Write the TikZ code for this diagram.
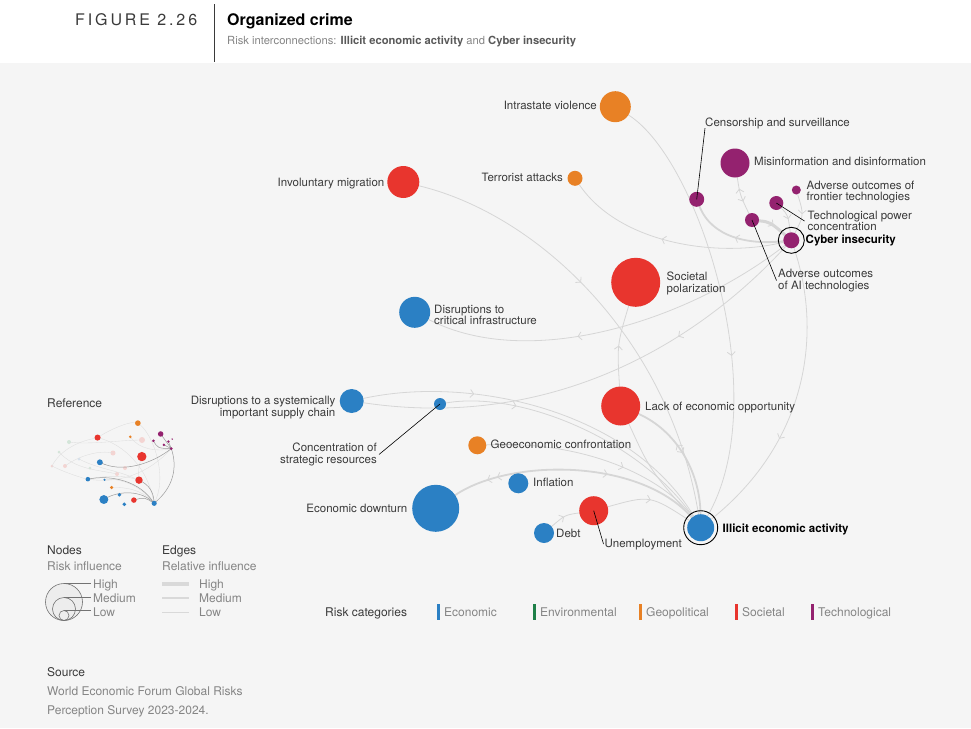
\documentclass[tikz,border=0pt]{standalone}
\usepackage{fontspec}
\setmainfont{TeX Gyre Heros}
\usetikzlibrary{arrows.meta,decorations.markings}
\definecolor{bgc}{HTML}{F5F5F5}
\definecolor{edgec}{HTML}{D6D6D6}
\definecolor{txt}{HTML}{3A3A3A}
\definecolor{gtxt}{HTML}{858585}
\definecolor{ecoc}{HTML}{2B80C4}
\definecolor{envc}{HTML}{1E8048}
\definecolor{geoc}{HTML}{E88125}
\definecolor{socc}{HTML}{E8352E}
\definecolor{tecc}{HTML}{94226F}
\definecolor{thl}{HTML}{DEDEDE}
\definecolor{thd}{HTML}{9A9A9A}
\definecolor{fpink}{HTML}{F4D4D2}
\definecolor{fgreen}{HTML}{D3E6D9}
\definecolor{fblue}{HTML}{D5E3F0}
\pgfdeclarelayer{bg}
\pgfsetlayers{bg,main}
\tikzset{
  rnode/.style={circle, inner sep=0pt, outer sep=0pt, minimum size=#1},
  lbl/.style={inner sep=0pt, font=\fontsize{11.5}{11.5}\selectfont, text=txt, text height=8pt, text depth=2pt},
  lbltwo/.style={inner sep=0pt, font=\fontsize{11.5}{11.4}\selectfont, text=txt, align=left},
  lbltwor/.style={lbltwo, align=right},
  boldlbl/.style={lbl, font=\bfseries\fontsize{11.5}{11.5}\selectfont, text=black},
  leader/.style={draw=black, line width=0.6pt},
  edg/.style={draw=edgec, line width=0.8pt},
  edgm/.style={draw=edgec, line width=1.8pt},
  edgt/.style={draw=edgec, line width=3pt},
  chev/.style={postaction={decorate, decoration={markings, mark=at position #1 with {\arrow[edgec, line width=0.8pt]{Straight Barb[length=3.5pt, width=8pt]}}}}},
  chevback/.style={postaction={decorate, decoration={markings, mark=at position #1 with {\arrowreversed[edgec, line width=0.8pt]{Straight Barb[length=3.5pt, width=8pt]}}}}},
  legtxt/.style={inner sep=0pt, anchor=base west, font=\fontsize{12}{13}\selectfont, text=gtxt},
  legdark/.style={legtxt, text=txt},
  thin/.style={draw=thl, line width=0.35pt},
  thdark/.style={draw=thd, line width=0.5pt},
}
\begin{document}
\begin{tikzpicture}[x=1pt, y=-1pt]
\useasboundingbox (0,0) rectangle (971,728);
\begin{pgfonlayer}{bg}
\fill[white] (0,0) rectangle (971,63);
\fill[bgc] (0,63) rectangle (971,728);
\end{pgfonlayer}

% header
\node[inner sep=0pt, anchor=base west, font=\fontsize{16}{16}\selectfont\addfontfeatures{LetterSpace=18}, text=txt] (fig) at (75,25) {FIGURE 2.26};
\coordinate (vt) at (214,4);
\coordinate (vb) at (214,62);
\draw[line width=0.8pt, draw=txt] (vt) -- (vb);
\node[inner sep=0pt, anchor=base west, font=\bfseries\fontsize{16}{16}\selectfont, text=black] (title) at (227,25) {Organized crime};
\node[inner sep=0pt, anchor=base west, font=\fontsize{11.2}{12}\selectfont, text=gtxt] (subtitle) at (227,44.5) {Risk interconnections: \textcolor{black!65}{\bfseries Illicit economic activity} and \textcolor{black!65}{\bfseries Cyber insecurity}};

% main nodes
\node[rnode=31pt, fill=geoc] (intra) at (615.3,106.7) {};
\node[rnode=15pt, fill=tecc] (cens) at (696.7,199.3) {};
\node[rnode=29pt, fill=tecc] (misi) at (735,163) {};
\node[rnode=9pt, fill=tecc] (front) at (796.3,190) {};
\node[rnode=14pt, fill=tecc] (tpow) at (776.3,203) {};
\node[rnode=14pt, fill=tecc] (ai) at (752,220) {};
\node[rnode=16pt, fill=tecc] (cyb) at (791.3,240.3) {};
\node[rnode=26pt, draw=black, line width=0.9pt] (cybring) at (cyb.center) {};
\node[rnode=32pt, fill=socc] (invm) at (403.3,182) {};
\node[rnode=15pt, fill=geoc] (terr) at (575,178.3) {};
\node[rnode=49pt, fill=socc] (soc) at (635.7,282.3) {};
\node[rnode=31pt, fill=ecoc] (crit) at (414.7,312.3) {};
\node[rnode=24pt, fill=ecoc] (supc) at (351.7,401) {};
\node[rnode=12pt, fill=ecoc] (conc) at (440,404) {};
\node[rnode=39pt, fill=socc] (leo) at (620.7,406) {};
\node[rnode=18pt, fill=geoc] (geo) at (477.3,445.3) {};
\node[rnode=20pt, fill=ecoc] (infl) at (518.3,483.3) {};
\node[rnode=47pt, fill=ecoc] (ecod) at (435.7,508.3) {};
\node[rnode=29pt, fill=socc] (unem) at (593.7,510.7) {};
\node[rnode=20pt, fill=ecoc] (debt) at (544,533) {};
\node[rnode=27pt, fill=ecoc] (ill) at (700.7,527.7) {};
\node[rnode=34pt, draw=black, line width=0.9pt] (illring) at (ill.center) {};

% edges
\begin{pgfonlayer}{bg}
\draw[edg, chev=0.62] (intra) .. controls (700,160) and (775,400) .. (ill);
\draw[edg, chev=0.42] (invm) .. controls (540,215) and (670,340) .. (ill);
\draw[edg, chev=0.55] (cyb) .. controls (720,258) and (620,245) .. (terr);
\draw[edg, chev=0.6] (cyb) .. controls (690,320) and (530,372) .. (crit);
\draw[edg, chev=0.3] (cyb) .. controls (705,335) and (560,432) .. (supc);
\draw[edg, chev=0.65] (cyb) .. controls (822,330) and (810,440) .. (ill);
\draw[edgm, chev=0.5] (cyb) .. controls (750,245) and (712,238) .. (cens);
\draw[edgt, chev=0.5] (ai) .. controls (770,222) .. (cyb);
\draw[edg, chev=0.5] (tpow) .. controls (788,215) .. (cyb);
\draw[edg, chev=0.5] (front) .. controls (804,215) .. (cyb);
\draw[edg, chevback=0.3, chev=0.65] (misi) .. controls (740,195) .. (ai);
\draw[edg, chev=0.5] (leo) .. controls (617,345) .. (soc);
\draw[edgm, chevback=0.4, chev=0.48] (leo) .. controls (675,430) and (700,470) .. (ill);
\draw[edg] (leo) .. controls (650,470) .. (ill);
\draw[edg, chev=0.62] (geo) .. controls (590,440) and (665,480) .. (ill);
\draw[edgm, chevback=0.14, chevback=0.18, chev=0.62] (ecod) .. controls (510,458) and (640,458) .. (ill);
\draw[edg, chev=0.5] (unem) .. controls (650,495) .. (ill);
\draw[edg, chev=0.5] (debt) .. controls (565,515) .. (unem);
\draw[edg, chev=0.3] (supc) .. controls (470,375) and (630,410) .. (ill);
\draw[edg, chev=0.25] (conc) .. controls (520,390) and (640,440) .. (ill);
\end{pgfonlayer}

% labels
\node[lbl, anchor=east] (lintra) at (597,106.5) {Intrastate violence};
\node[lbl, anchor=west] (lcens) at (705,123) {Censorship and surveillance};
\node[lbl, anchor=west] (lmisi) at (754,162.5) {Misinformation and disinformation};
\node[lbltwo, anchor=west] (lfront) at (806.5,192) {Adverse outcomes of\\frontier technologies};
\node[lbltwo, anchor=west] (ltpow) at (807.5,221) {Technological power\\concentration};
\node[boldlbl, anchor=west] (lcyb) at (805.5,240.7) {Cyber insecurity};
\node[lbltwo, anchor=west] (lai) at (778,280.5) {Adverse outcomes\\of AI technologies};
\node[lbl, anchor=east] (linvm) at (384.5,183.3) {Involuntary migration};
\node[lbl, anchor=east] (lterr) at (563,178.8) {Terrorist attacks};
\node[lbltwo, anchor=west] (lsoc) at (666.5,283.3) {Societal\\polarization};
\node[lbltwo, anchor=west] (lcrit) at (434,315) {Disruptions to\\critical infrastructure};
\node[lbltwor, anchor=east] (lsupc) at (335.5,407.7) {Disruptions to a systemically\\important supply chain};
\node[lbltwor, anchor=east] (lconc) at (377,454.5) {Concentration of\\strategic resources};
\node[lbl, anchor=west] (lleo) at (645,407.3) {Lack of economic opportunity};
\node[lbl, anchor=west] (lgeo) at (490.5,445) {Geoeconomic confrontation};
\node[lbl, anchor=west] (linfl) at (533,483.3) {Inflation};
\node[lbl, anchor=east] (lecod) at (407.5,509) {Economic downturn};
\node[lbl, anchor=west] (lunem) at (604.5,544) {Unemployment};
\node[lbl, anchor=west] (ldebt) at (556,534) {Debt};
\node[boldlbl, anchor=west] (lill) at (722.5,529) {Illicit economic activity};

% leaders
\draw[leader] (lcens.south west) -- (cens.center);
\draw[leader] (tpow.center) -- ([xshift=-3pt]ltpow.west);
\draw[leader] (ai.center) -- ([xshift=-1.5pt]lai.west);
\draw[leader] ([xshift=2pt]lconc.east) -- (conc.center);
\draw[leader] (unem.center) -- ([xshift=-1pt]lunem.west);

% reference thumbnail
\node[legdark] (lref) at (47,407) {Reference};
\fill[fpink] (142,440) circle[radius=3];
\fill[fpink] (113,453) circle[radius=2.5];
\fill[fpink] (117,474) circle[radius=2];
\fill[fpink] (65,466) circle[radius=2];
\fill[fpink] (52,466) circle[radius=1.5];
\fill[fpink] (125,468) circle[radius=2];
\fill[fgreen] (69,442) circle[radius=2];
\fill[fgreen] (59,452) circle[radius=1.5];
\fill[fgreen] (90,468) circle[radius=1.5];
\fill[fblue] (79,459) circle[radius=1.5];
\draw[thin] (52,466) .. controls (60,450) and (80,440) .. (98,438);
\draw[thin] (59,452) .. controls (75,470) and (100,470) .. (117,474);
\draw[thin] (65,466) .. controls (80,455) and (100,450) .. (113,453);
\draw[thin] (69,442) .. controls (90,445) and (120,440) .. (142,440);
\draw[thin] (52,466) .. controls (70,475) and (85,478) .. (88,480);
\draw[thin] (79,459) .. controls (100,470) and (120,470) .. (140,481);
\begin{scope}[shift={(21,403)}, scale=0.19]
  \draw[thin] (615,106) .. controls (700,160) and (775,400) .. (700,528);
  \draw[thin] (403,182) .. controls (540,215) and (670,340) .. (700,528);
  \draw[thin] (791,240) .. controls (720,258) and (620,245) .. (575,178);
  \draw[thin] (791,240) .. controls (705,335) and (560,432) .. (352,401);
  \draw[thin] (621,406) .. controls (617,345) .. (636,282);
  \draw[thin] (477,445) .. controls (590,440) and (665,480) .. (700,528);
  \draw[thin] (440,404) .. controls (520,390) and (640,440) .. (700,528);
  \draw[thin] (403,182) .. controls (500,120) and (600,90) .. (615,106);
  \draw[thin] (352,401) .. controls (450,380) and (550,380) .. (621,406);
  \draw[thdark] (791,240) .. controls (690,320) and (530,372) .. (415,312);
  \draw[thdark] (791,240) .. controls (822,330) and (810,440) .. (700,528);
  \draw[thdark] (735,163) .. controls (760,200) .. (791,240);
  \draw[thdark] (697,199) .. controls (720,238) .. (791,240);
  \draw[thdark] (752,220) -- (791,240);
  \draw[thdark] (776,203) -- (791,240);
  \draw[thdark] (621,406) .. controls (675,430) and (700,470) .. (700,528);
  \draw[thdark] (436,508) .. controls (510,458) and (640,458) .. (700,528);
  \draw[thdark] (594,511) .. controls (650,495) .. (700,528);
  \draw[thdark] (352,401) .. controls (470,375) and (630,410) .. (700,528);
  \fill[geoc] (615,106) circle[radius=15];
  \fill[tecc] (697,199) circle[radius=7.5];
  \fill[tecc] (735,163) circle[radius=14.5];
  \fill[tecc] (796,190) circle[radius=4.5];
  \fill[tecc] (776,203) circle[radius=7];
  \fill[tecc] (752,220) circle[radius=7];
  \fill[tecc] (791,240) circle[radius=8];
  \fill[socc] (403,182) circle[radius=16];
  \fill[geoc] (575,178) circle[radius=7.5];
  \fill[socc] (636,282) circle[radius=24.5];
  \fill[ecoc] (415,312) circle[radius=15.5];
  \fill[ecoc] (352,401) circle[radius=12];
  \fill[ecoc] (440,404) circle[radius=6];
  \fill[socc] (621,406) circle[radius=19.5];
  \fill[geoc] (477,445) circle[radius=9];
  \fill[ecoc] (518,483) circle[radius=10];
  \fill[ecoc] (436,508) circle[radius=23.5];
  \fill[socc] (594,511) circle[radius=14.5];
  \fill[ecoc] (544,533) circle[radius=10];
  \fill[ecoc] (701,528) circle[radius=13.5];
\end{scope}

% nodes legend
\node[legdark] (lnodes) at (47,554) {Nodes};
\node[legtxt] (lrinf) at (47,570) {Risk influence};
\draw[draw=black!55, fill=black!7, line width=0.6pt] (64,602) circle[radius=18.5];
\draw[draw=black!55, line width=0.6pt] (64,609) circle[radius=11.5];
\draw[draw=black!55, line width=0.6pt] (64,615.5) circle[radius=5];
\draw[draw=black!55, line width=0.6pt] (64,583.5) -- (91,583.5);
\draw[draw=black!55, line width=0.6pt] (64,597.5) -- (91,597.5);
\draw[draw=black!55, line width=0.6pt] (64,610.5) -- (91,610.5);
\node[legtxt] (lnh) at (93,588) {High};
\node[legtxt] (lnm) at (93,602) {Medium};
\node[legtxt] (lnl) at (93,616) {Low};

% edges legend
\node[legdark] (ledges) at (162,554) {Edges};
\node[legtxt] (lrel) at (162,570) {Relative influence};
\draw[draw=black!15, line width=4pt] (162,584) -- (189,584);
\draw[draw=black!15, line width=2.2pt] (162,598) -- (189,598);
\draw[draw=black!15, line width=1pt] (162,612) -- (189,612);
\node[legtxt] (leh) at (199,588) {High};
\node[legtxt] (lem) at (199,602) {Medium};
\node[legtxt] (lel) at (199,616) {Low};

% categories legend
\node[legdark] (lcat) at (325,616) {Risk categories};
\fill[ecoc] (436.5,604) rectangle (439.5,620);
\node[legtxt] (lc1) at (444,616) {Economic};
\fill[envc] (532.5,604) rectangle (535.5,620);
\node[legtxt] (lc2) at (540,616) {Environmental};
\fill[geoc] (638.5,604) rectangle (641.5,620);
\node[legtxt] (lc3) at (646,616) {Geopolitical};
\fill[socc] (734.5,604) rectangle (737.5,620);
\node[legtxt] (lc4) at (742,616) {Societal};
\fill[tecc] (810.5,604) rectangle (813.5,620);
\node[legtxt] (lc5) at (818,616) {Technological};

% source
\node[legdark] (lsrc) at (47,676) {Source};
\node[legtxt] (lsrc1) at (47,695) {World Economic Forum Global Risks};
\node[legtxt] (lsrc2) at (47,714) {Perception Survey 2023-2024.};
\end{tikzpicture}
\end{document}
